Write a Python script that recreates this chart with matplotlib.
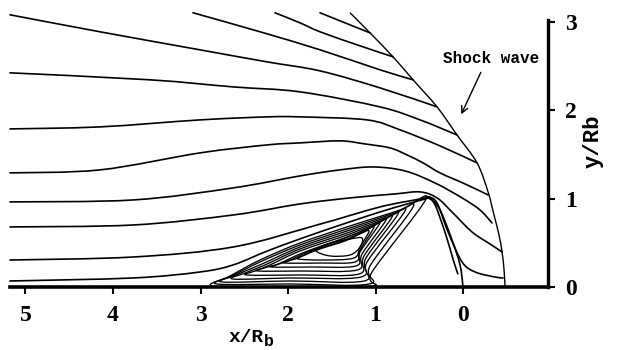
import matplotlib
matplotlib.use("Agg")
import matplotlib.pyplot as plt
from matplotlib.path import Path
from matplotlib.patches import PathPatch

# ---------------- data (x/Rb, y/Rb) ----------------
x_ticks = [5, 4, 3, 2, 1, 0]
y_ticks = [0, 1, 2, 3]
x_tick_labels = ["5", "4", "3", "2", "1", "0"]
y_tick_labels = ["0", "1", "2", "3"]

shock_x = [1.291, 1.063, 0.800, 0.571, 0.297, 0.069, -0.160, -0.286, -0.354, -0.411, -0.446, -0.469, -0.480]
shock_y = [3.100, 2.873, 2.602, 2.342, 2.036, 1.719, 1.403, 1.075, 0.814, 0.588, 0.396, 0.192, 0.000]

s_top_x = [1.634, 1.349, 1.063]
s_top_y = [3.100, 2.986, 2.873]
s_c_x = [2.149, 1.863, 1.634, 1.177, 0.800]
s_c_y = [3.100, 2.986, 2.885, 2.726, 2.602]
s_b_x = [3.086, 2.320, 1.634, 0.949, 0.571]
s_b_y = [3.100, 2.885, 2.681, 2.455, 2.342]
s_a_x = [5.177, 4.149, 3.006, 2.240, 1.634, 0.949, 0.297]
s_a_y = [3.077, 2.885, 2.681, 2.545, 2.443, 2.251, 2.036]
s_d_x = [5.177, 3.577, 2.629, 1.863, 0.949, 0.491, 0.069]
s_d_y = [2.421, 2.342, 2.262, 2.206, 2.036, 1.889, 1.719]
s_e_x = [5.177, 4.149, 3.006, 2.240, 1.863, 1.097, 0.720, 0.263, -0.160]
s_e_y = [1.787, 1.810, 1.889, 1.923, 1.923, 1.889, 1.776, 1.595, 1.403]
s_f_x = [5.177, 4.149, 3.006, 2.240, 1.863, 1.406, 1.120, 0.834, 0.640, 0.457, 0.263, -0.023, -0.286]
s_f_y = [1.290, 1.324, 1.516, 1.606, 1.629, 1.652, 1.617, 1.572, 1.493, 1.403, 1.290, 1.165, 1.041]
s_h_x = [5.177, 3.771, 2.629, 1.863, 1.406, 1.029, 0.663, 0.320, 0.011, -0.194, -0.331]
s_h_y = [0.962, 0.984, 1.120, 1.256, 1.324, 1.357, 1.312, 1.176, 1.007, 0.871, 0.724]
s_i_x = [5.177, 3.771, 2.629, 1.863, 1.291, 0.777, 0.491, 0.297, 0.126, -0.103, -0.309, -0.446]
s_i_y = [0.679, 0.701, 0.814, 0.939, 1.007, 1.052, 1.075, 1.007, 0.848, 0.622, 0.486, 0.396]
s_j_x = [5.177, 3.771, 2.629, 1.669, 0.949, 0.491, 0.400, 0.297, 0.171, 0.011, -0.137, -0.366, -0.457]
s_j_y = [0.305, 0.339, 0.452, 0.701, 0.905, 0.995, 1.018, 0.950, 0.622, 0.283, 0.170, 0.113, 0.102]
s_k_x = [5.177, 3.771, 3.006, 2.629, 2.206, 1.669, 0.949, 0.434, 0.377, 0.263, 0.126, 0.034, 0.000]
s_k_y = [0.068, 0.102, 0.170, 0.249, 0.419, 0.611, 0.848, 0.995, 1.007, 0.871, 0.532, 0.249, 0.000]
s_k2_x = [0.400, 0.320, 0.200, 0.110, 0.060]
s_k2_y = [1.010, 0.930, 0.600, 0.300, 0.150]

loops_x = [
    [2.857, 1.977, 1.040, 1.040, 0.423, 0.720, 1.291, 1.863, 2.320, 2.663, 2.857],
    [2.811, 1.977, 1.074, 1.063, 0.571, 0.777, 1.291, 1.863, 2.320, 2.640, 2.811],
    [2.754, 1.977, 1.131, 1.097, 0.663, 0.834, 1.291, 1.863, 2.297, 2.594, 2.754],
    [2.629, 1.977, 1.166, 1.109, 0.743, 0.891, 1.291, 1.863, 2.263, 2.491, 2.629],
    [2.469, 1.863, 1.189, 1.131, 0.811, 0.949, 1.291, 1.863, 2.206, 2.377, 2.469],
    [2.343, 1.863, 1.211, 1.154, 0.880, 1.006, 1.291, 1.806, 2.114, 2.274, 2.343],
    [2.183, 1.749, 1.223, 1.177, 0.949, 1.063, 1.349, 1.749, 2.000, 2.137, 2.183],
    [2.034, 1.634, 1.234, 1.177, 1.017, 1.120, 1.349, 1.691, 1.886, 2.000, 2.034],
    [1.886, 1.577, 1.246, 1.177, 1.074, 1.177, 1.349, 1.634, 1.806, 1.886],
    [1.680, 1.520, 1.291, 1.177, 1.154, 1.291, 1.463, 1.611, 1.680],
]
loops_y = [
    [0.011, 0.000, 0.011, 0.170, 0.995, 0.871, 0.690, 0.498, 0.305, 0.124, 0.011],
    [0.034, 0.034, 0.034, 0.238, 0.905, 0.837, 0.667, 0.475, 0.283, 0.124, 0.034],
    [0.057, 0.068, 0.068, 0.283, 0.860, 0.803, 0.645, 0.452, 0.260, 0.136, 0.057],
    [0.090, 0.102, 0.113, 0.328, 0.826, 0.769, 0.622, 0.430, 0.249, 0.158, 0.090],
    [0.136, 0.136, 0.147, 0.351, 0.792, 0.735, 0.600, 0.407, 0.249, 0.181, 0.136],
    [0.181, 0.181, 0.192, 0.373, 0.758, 0.701, 0.577, 0.396, 0.260, 0.215, 0.181],
    [0.226, 0.226, 0.238, 0.396, 0.724, 0.667, 0.554, 0.407, 0.294, 0.249, 0.226],
    [0.271, 0.271, 0.283, 0.419, 0.679, 0.633, 0.532, 0.419, 0.328, 0.294, 0.271],
    [0.317, 0.305, 0.328, 0.452, 0.633, 0.600, 0.520, 0.430, 0.362, 0.317],
    [0.407, 0.351, 0.362, 0.452, 0.554, 0.543, 0.509, 0.464, 0.407],
]

arrow_tail = (-0.217, 2.455)
arrow_head = (0.034, 1.923)


def smooth_path(xs, ys, closed=False):
    """Cubic Bezier path passing through every read point (Catmull-Rom tangents)."""
    pts = list(zip(xs, ys))
    if closed:
        pts = pts[:-1]
    n = len(pts)

    def get(i):
        if closed:
            return pts[i % n]
        return pts[min(max(i, 0), n - 1)]

    verts = [pts[0]]
    codes = [Path.MOVETO]
    last = n if closed else n - 1
    for i in range(last):
        p0, p1, p2, p3 = get(i - 1), get(i), get(i + 1), get(i + 2)
        c1 = (p1[0] + (p2[0] - p0[0]) / 6, p1[1] + (p2[1] - p0[1]) / 6)
        c2 = (p2[0] - (p3[0] - p1[0]) / 6, p2[1] - (p3[1] - p1[1]) / 6)
        verts += [c1, c2, p2]
        codes += [Path.CURVE4] * 3
    return Path(verts, codes)


# ---------------- figure ----------------
W, H = 628, 350
fig = plt.figure(figsize=(W / 100, H / 100), dpi=100)
ax = fig.add_axes([10 / W, (H - 287) / H, 538 / W, 276 / H])
ax.set_xlim(5.177, -0.971)
ax.set_ylim(0, 3.12)

streams = [
    (s_top_x, s_top_y), (s_c_x, s_c_y), (s_b_x, s_b_y), (s_a_x, s_a_y),
    (s_d_x, s_d_y), (s_e_x, s_e_y), (s_f_x, s_f_y), (s_h_x, s_h_y),
    (s_i_x, s_i_y), (s_j_x, s_j_y), (s_k_x, s_k_y), (s_k2_x, s_k2_y),
]
for sx, sy in streams:
    ax.add_patch(PathPatch(smooth_path(sx, sy), fill=False, edgecolor="black",
                           lw=1.2, joinstyle="round", capstyle="round", clip_on=False))
ax.add_patch(PathPatch(smooth_path(shock_x, shock_y), fill=False, edgecolor="black",
                       lw=1.0, joinstyle="round", clip_on=False))
for lx, ly in zip(loops_x, loops_y):
    ax.add_patch(PathPatch(smooth_path(lx, ly, closed=True), fill=False,
                           edgecolor="black", lw=0.95, joinstyle="round"))

ax.annotate("", xy=arrow_head, xytext=arrow_tail,
            arrowprops=dict(arrowstyle="->", color="black", lw=1.0,
                            mutation_scale=12))
ax.text(-0.32, 2.58, "Shock wave", family="Liberation Mono", fontweight="bold",
        fontsize=11.5, ha="center", va="center")

for s in ["top", "left"]:
    ax.spines[s].set_visible(False)
ax.spines["bottom"].set_linewidth(2.6)
ax.spines["right"].set_linewidth(2.4)
ax.spines["right"].set_bounds(0, 3.02)

ax.set_xticks(x_ticks)
ax.set_xticklabels(x_tick_labels)
ax.set_yticks(y_ticks)
ax.set_yticklabels(y_tick_labels)
ax.yaxis.tick_right()
ax.tick_params(axis="x", direction="out", length=5, width=1.5, pad=8)
ax.tick_params(axis="y", direction="out", length=5, width=1.5, pad=7)
for t in ax.get_xticklabels() + ax.get_yticklabels():
    t.set_family("Liberation Serif")
    t.set_fontweight("bold")
    t.set_fontsize(17)

fig.text(264 / W, 1 - 338 / H, "x/R", family="Liberation Mono", fontweight="bold",
         fontsize=14, ha="right", va="center")
fig.text(264 / W, 1 - 341 / H, "b", family="Liberation Mono", fontweight="bold",
         fontsize=12, ha="left", va="center")
fig.text(593 / W, 1 - 141 / H, "y/Rb", family="Liberation Mono", fontweight="bold",
         fontsize=16, ha="center", va="center", rotation=90)

fig.savefig("out.png", dpi=100)
